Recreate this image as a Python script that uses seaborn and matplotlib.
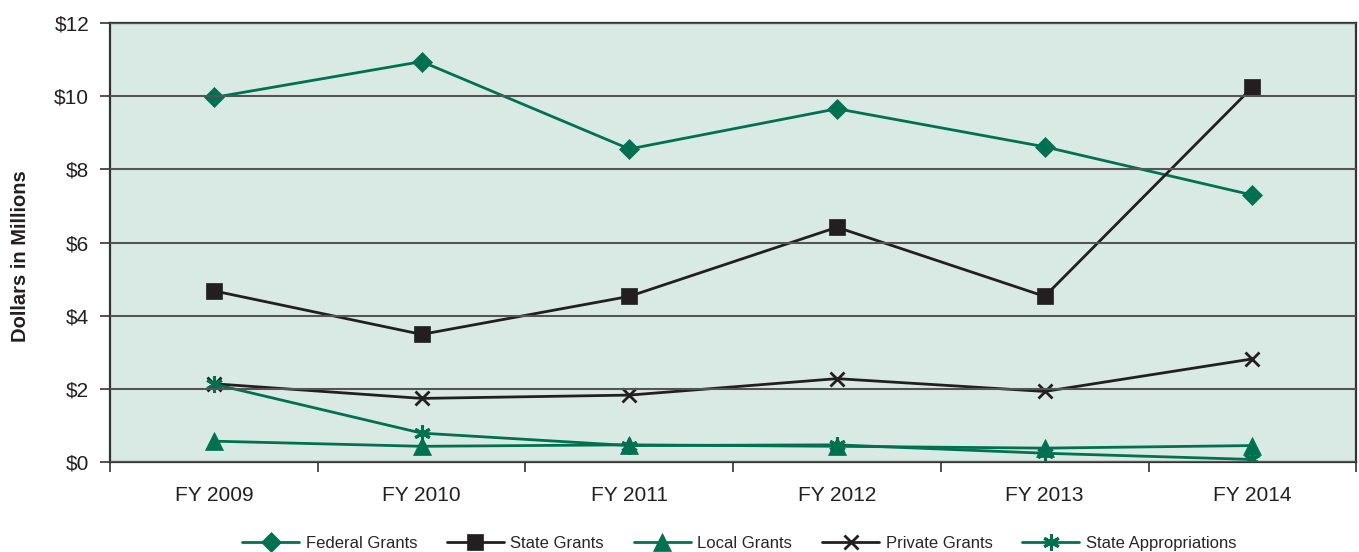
import matplotlib
matplotlib.use("Agg")
import matplotlib.pyplot as plt
from matplotlib.ticker import FixedLocator, FuncFormatter
import seaborn as sns
import pandas as pd

# Funding by source, FY 2009 - FY 2014 (dollars in millions)
years = ["FY 2009", "FY 2010", "FY 2011", "FY 2012", "FY 2013", "FY 2014"]
federal_grants = [9.97, 10.95, 8.56, 9.66, 8.62, 7.30]
state_grants = [4.68, 3.49, 4.53, 6.42, 4.53, 10.25]
local_grants = [0.57, 0.43, 0.47, 0.43, 0.38, 0.45]
private_grants = [2.14, 1.74, 1.83, 2.28, 1.93, 2.82]
state_appropriations = [2.13, 0.79, 0.45, 0.47, 0.24, 0.07]

series_names = ["Federal Grants", "State Grants", "Local Grants",
                "Private Grants", "State Appropriations"]
series_values = [federal_grants, state_grants, local_grants,
                 private_grants, state_appropriations]

GREEN = "#007150"
BLACK = "#231f20"
styles = {
    "Federal Grants": dict(color=GREEN, marker="D", ms=10),
    "State Grants": dict(color=BLACK, marker="s", ms=11),
    "Local Grants": dict(color=GREEN, marker="^", ms=12.5),
    "Private Grants": dict(color=BLACK, marker="x", ms=10.5, mew=2),
    "State Appropriations": dict(color=GREEN, marker=(6, 2, 0), ms=12, mew=2.2),
}

sns.set_theme(style="white")
plt.rcParams["font.family"] = ["Liberation Sans", "DejaVu Sans"]

fig = plt.figure(figsize=(13.59, 5.52), dpi=100)
ax = fig.add_axes([0.081, 0.163, 0.917, 0.795])
ax.set_facecolor("#d9eae4")

df = pd.DataFrame({"year": years})
for name, vals in zip(series_names, series_values):
    df[name] = vals
df["x"] = range(len(years))

for name in series_names:
    st = styles[name]
    sns.lineplot(data=df, x="x", y=name, ax=ax, color=st["color"], lw=2,
                 marker=st["marker"], markersize=st["ms"],
                 markeredgewidth=st.get("mew", 0.5),
                 markeredgecolor=st["color"], label=name, legend=False)

ax.set_xlim(-0.5, len(years) - 0.5)
ax.set_ylim(0, 12)
ax.set_yticks(range(0, 13, 2))
ax.yaxis.set_major_formatter(FuncFormatter(lambda v, p: f"${v:.0f}"))
ax.set_xticks(range(len(years)))
ax.set_xticklabels(years)
ax.xaxis.set_minor_locator(FixedLocator([i - 0.5 for i in range(len(years) + 1)]))
ax.tick_params(axis="x", which="major", length=0, pad=17, labelsize=15, colors="#231f20")
ax.tick_params(axis="x", which="minor", length=7, width=1.2, color="#333333", bottom=True)
ax.tick_params(axis="y", which="major", length=7, width=1.2, color="#333333",
               left=True, pad=8, labelsize=15, labelcolor="#231f20")

ax.grid(axis="y", color="#555555", lw=1.5)
ax.set_axisbelow(False)
for sp in ax.spines.values():
    sp.set_color("#333333")
    sp.set_linewidth(1.6)

ax.set_xlabel("")
ax.set_ylabel("Dollars in Millions", fontsize=14.5, fontweight="bold",
              color="#231f20")
ax.yaxis.set_label_coords(-0.064, 0.47)

handles, labels = ax.get_legend_handles_labels()
fig.legend(handles, labels, loc="center", bbox_to_anchor=(0.544, 0.016),
           ncol=5, frameon=False, fontsize=12, handlelength=3.4,
           handletextpad=0.4, columnspacing=1.8)

fig.savefig("out.png", dpi=100)
